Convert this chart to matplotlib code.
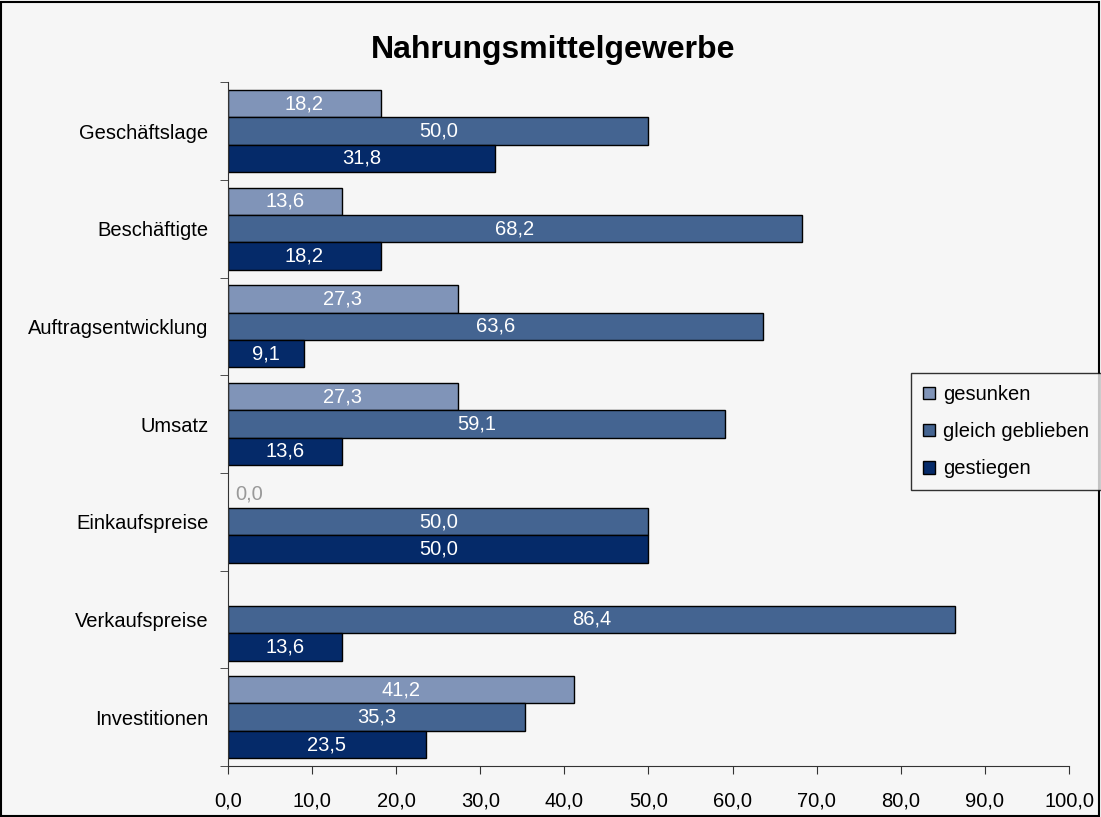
import numpy as np
import matplotlib
matplotlib.use("Agg")
import matplotlib.pyplot as plt
from matplotlib.patches import Rectangle

plt.rcParams["font.family"] = ["Liberation Sans", "DejaVu Sans"]

categories = ["Geschäftslage", "Beschäftigte", "Auftragsentwicklung", "Umsatz",
              "Einkaufspreise", "Verkaufspreise", "Investitionen"]
gesunken = [18.2, 13.6, 27.3, 27.3, 0.0, np.nan, 41.2]
gleich = [50.0, 68.2, 63.6, 59.1, 50.0, 86.4, 35.3]
gestiegen = [31.8, 18.2, 9.1, 13.6, 50.0, 13.6, 23.5]
series_names = ["gesunken", "gleich geblieben", "gestiegen"]
colors = ["#8094B8", "#446491", "#052A69"]
xticks = [0, 10, 20, 30, 40, 50, 60, 70, 80, 90, 100]

bg = "#F6F6F6"
fig = plt.figure(figsize=(11.01, 8.17), dpi=100, facecolor=bg)
ax = fig.add_axes([0.207, 0.0624, 0.764, 0.837], facecolor=bg)

n = len(categories)
y = np.arange(n)
h = 0.28
offsets = [-h, 0, h]
for vals, off, col, name in zip([gesunken, gleich, gestiegen], offsets, colors, series_names):
    v = np.array(vals, dtype=float)
    bars = ax.barh(y + off, np.nan_to_num(v), height=h, color=col, edgecolor="black",
                   linewidth=1.0, label=name)
    for b, val in zip(bars, v):
        if np.isnan(val) or val == 0:
            b.set_visible(False)
    for yi, val in zip(y, v):
        if np.isnan(val):
            continue
        txt = f"{val:.1f}".replace(".", ",")
        if val == 0:
            ax.text(0.9, yi + off, txt, ha="left", va="center", color="#999999", fontsize=14.5)
        else:
            ax.text(val / 2, yi + off, txt, ha="center", va="center", color="white", fontsize=14.5)

ax.set_ylim(n - 0.5, -0.5)
ax.set_xlim(0, 100)
ax.set_yticks(y)
ax.set_yticklabels(categories, fontsize=14.5)
ax.tick_params(axis="y", which="major", length=0, pad=14)
ax.set_yticks(np.arange(n + 1) - 0.5, minor=True)
ax.tick_params(axis="y", which="minor", length=6, direction="out", color="#333333")
ax.set_xticks(xticks)
ax.set_xticklabels([f"{t:.1f}".replace(".", ",") for t in xticks], fontsize=14.5)
ax.tick_params(axis="x", length=6, direction="out", pad=12, color="#333333")
for s in ["top", "right"]:
    ax.spines[s].set_visible(False)
for s in ["left", "bottom"]:
    ax.spines[s].set_color("#333333")

fig.text(0.502, 0.939, "Nahrungsmittelgewerbe", ha="center", va="center",
         fontsize=23, fontweight="bold")

handles, labels = ax.get_legend_handles_labels()
leg = fig.legend(handles, labels, loc="upper left", bbox_to_anchor=(0.827, 0.5435),
                 fontsize=14.5, frameon=True, fancybox=False, edgecolor="black",
                 facecolor=bg, handlelength=0.6, handleheight=0.6, handletextpad=0.4,
                 labelspacing=0.9, borderpad=0.6, borderaxespad=0)
leg.get_frame().set_linewidth(1.0)

fig.patches.append(Rectangle((0.001, 0.001), 0.997, 0.997, transform=fig.transFigure,
                             fill=False, edgecolor="black", linewidth=1.5))

fig.savefig("out.png", dpi=100, facecolor=bg)
